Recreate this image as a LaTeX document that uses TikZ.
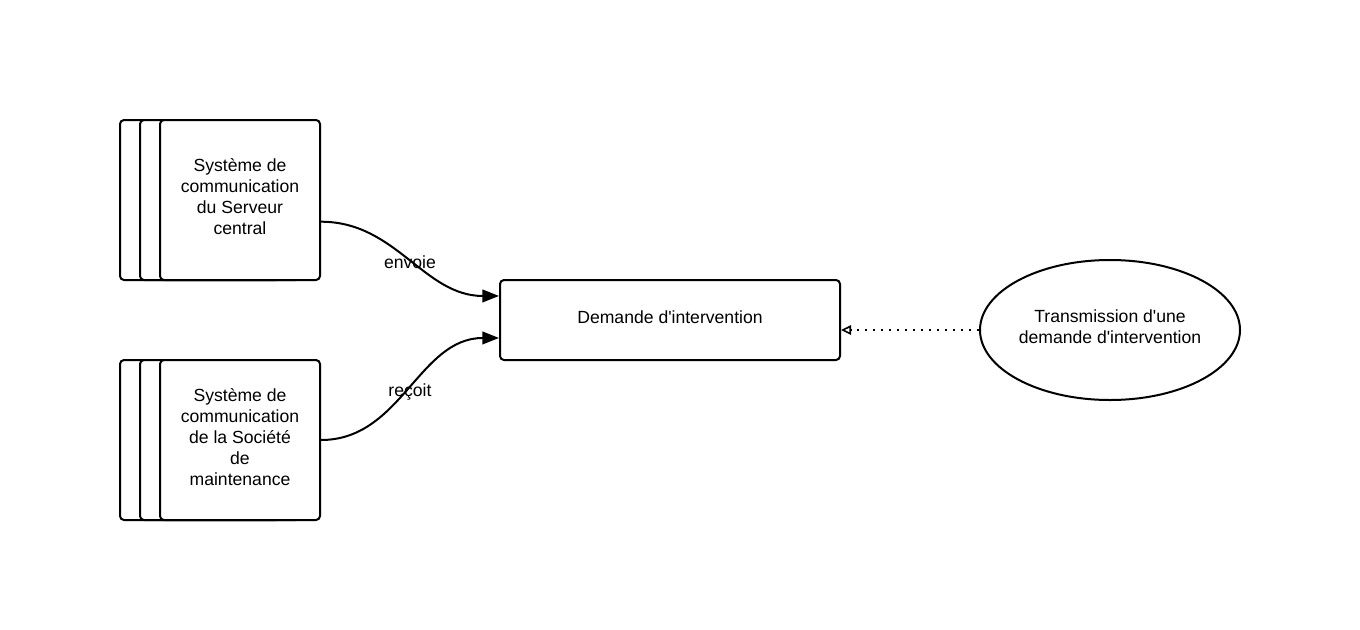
\documentclass[tikz,border=0pt]{standalone}
\usepackage{fontspec}
\setmainfont{Liberation Sans}
\usetikzlibrary{arrows.meta,shapes.geometric}
\begin{document}
\begin{tikzpicture}[x=0.75pt,y=-0.75pt,line width=1.5pt,
  txt/.style={font=\fontsize{13.2}{15.75}\selectfont,align=center,inner sep=0pt},
  stackbox/.style={draw,fill=white,rounded corners=3pt,minimum width=120pt,minimum height=120pt,inner sep=0pt},
  objbox/.style={draw,fill=white,rounded corners=3pt,minimum width=255pt,minimum height=60pt,inner sep=0pt},
  usecase/.style={draw,ellipse,minimum width=195pt,minimum height=105pt,inner sep=0pt},
  flow/.style={-{Triangle[length=12.5pt,width=9.5pt]}},
  realize/.style={dash pattern=on 1.5pt off 4.5pt,-{Triangle[open,length=7.5pt,width=7pt,line width=1.2pt]}},
  edgelbl/.style={txt,yshift=-2.5pt}]
\useasboundingbox (0,0) rectangle (1360,629);
% stack 1
\node[stackbox] (s1a) at (200,200) {};
\node[stackbox] (s1b) at (220,200) {};
\node[stackbox] (s1) at (240,200) {};
\node[txt] (s1t) at ([yshift=2.25pt]s1.center) {Système de\\communication\\du Serveur\\central};
% stack 2
\node[stackbox] (s2a) at (200,440) {};
\node[stackbox] (s2b) at (220,440) {};
\node[stackbox] (s2) at (240,440) {};
\node[txt] (s2t) at ([yshift=2.25pt]s2.center) {Système de\\communication\\de la Société\\de\\maintenance};
% object
\node[objbox] (d) at (670,320) {};
\node[txt] (dt) at ([yshift=2.25pt]d.center) {Demande d\textquotesingle intervention};
% use case
\node[usecase] (e) at (1110,330) {};
\node[txt] (et) at ([yshift=2.25pt]e.center) {Transmission d\textquotesingle une\\demande d\textquotesingle intervention};
% connectors
\draw[flow] (s1.-15.4) to[out=0,in=180] node[edgelbl] (l1) {envoie} (d.172.6);
\draw[flow] (s2.east) to[out=0,in=180] node[edgelbl] (l2) {reçoit} (d.186.7);
\coordinate (dE) at (e.west -| d.east);
\draw[realize] (e.west) -- (dE);
\end{tikzpicture}
\end{document}
